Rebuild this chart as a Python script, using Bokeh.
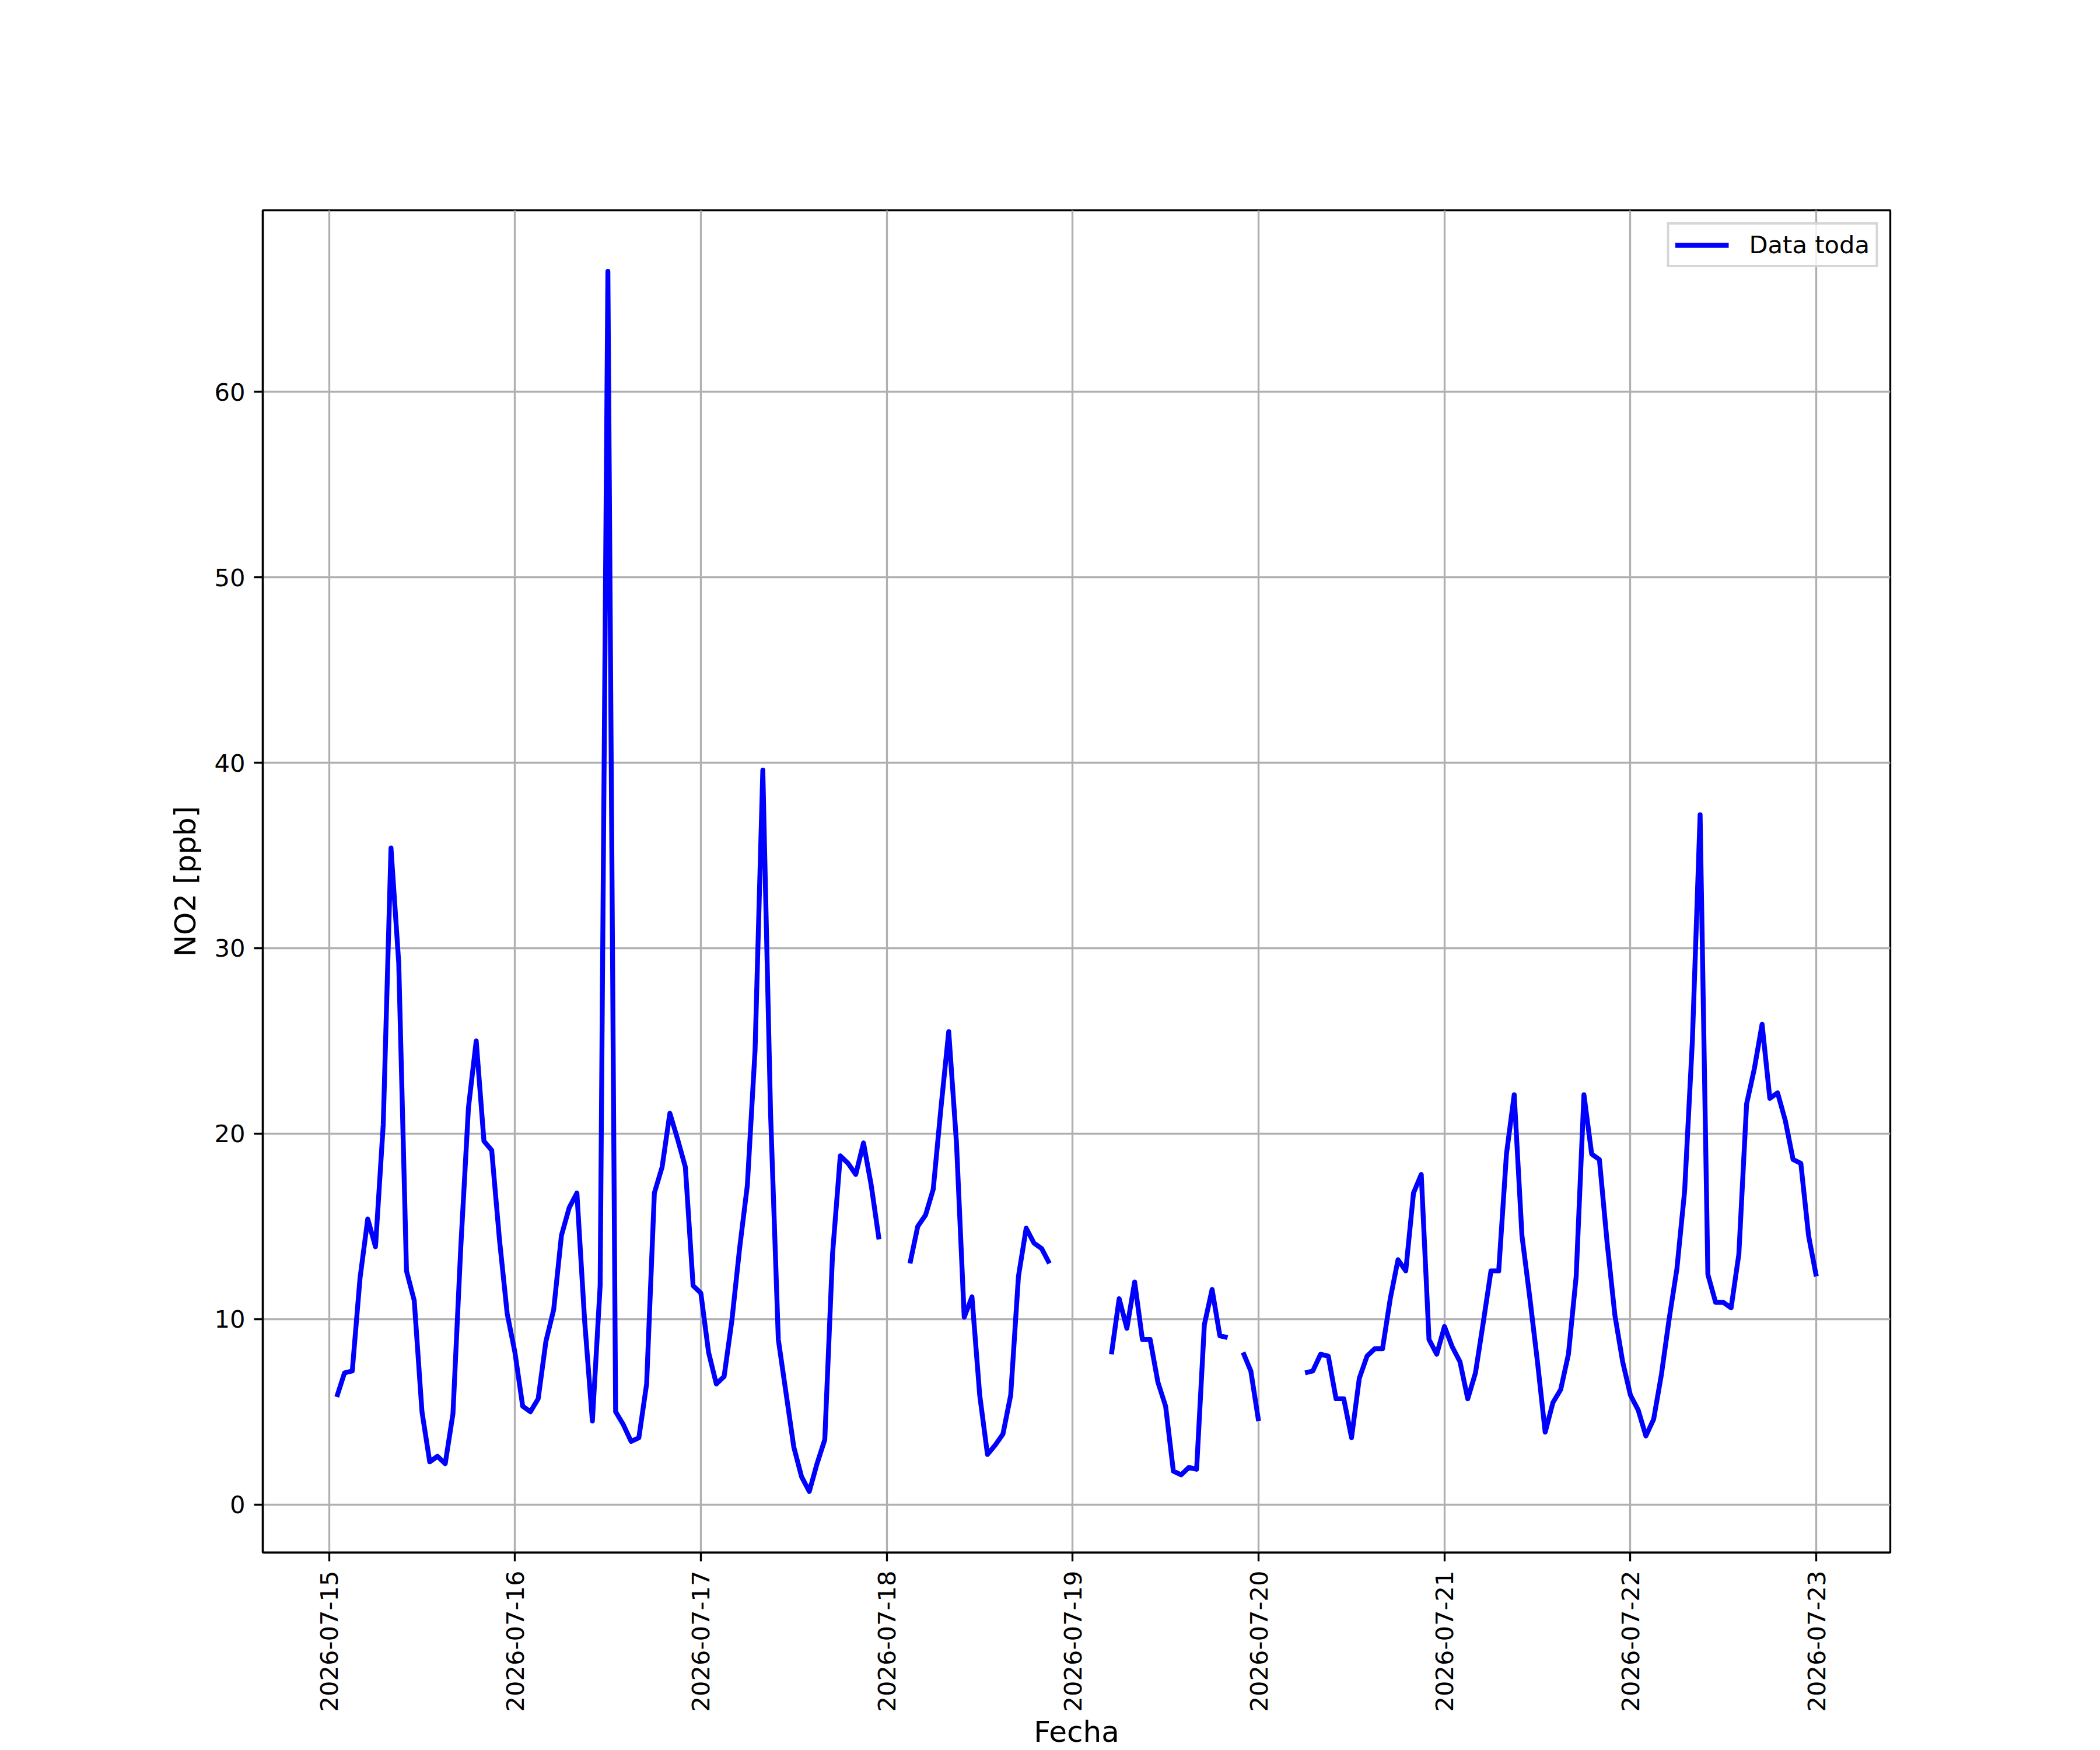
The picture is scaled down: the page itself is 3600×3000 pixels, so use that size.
import math
import numpy as np
import pandas as pd
from bokeh.plotting import figure
from bokeh.models import Range1d, FixedTicker, DatetimeTickFormatter, ColumnDataSource
from bokeh.embed import file_html
from bokeh.resources import INLINE

nan = float("nan")

# Hourly NO2 [ppb], first value at 2026-07-15 01:00
start_time = "2026-07-15 01:00"
no2_jul15 = [5.8, 7.1, 7.2, 12.2, 15.4, 13.9, 20.5, 35.4, 29.2, 12.6, 11.0, 5.0,
             2.3, 2.6, 2.2, 4.9, 13.8, 21.4, 25.0, 19.6, 19.1, 14.3, 10.3]
no2_jul16 = [8.2, 5.3, 5.0, 5.7, 8.8, 10.5, 14.5, 16.0, 16.8, 9.9, 4.5, 11.8,
             66.5, 5.0, 4.3, 3.4, 3.6, 6.5, 16.8, 18.2, 21.1, 19.7, 18.2, 11.8]
no2_jul17 = [11.4, 8.2, 6.5, 6.9, 9.9, 13.8, 17.2, 24.5, 39.6, 21.1, 8.9, 6.0,
             3.1, 1.5, 0.7, 2.2, 3.5, 13.5, 18.8, 18.4, 17.8, 19.5, 17.2, 14.3]
no2_jul18 = [nan, nan, nan, 13.0, 15.0, 15.6, 17.0, 21.4, 25.5, 19.5, 10.1, 11.2,
             5.9, 2.7, 3.2, 3.8, 5.9, 12.3, 14.9, 14.1, 13.8, 13.0, nan, nan]
no2_jul19 = [nan, nan, nan, nan, nan, 8.1, 11.1, 9.5, 12.0, 8.9, 8.9, 6.6,
             5.3, 1.8, 1.6, 2.0, 1.9, 9.7, 11.6, 9.1, 9.0, nan, 8.2, 7.2]
no2_jul20 = [4.5, nan, nan, nan, nan, nan, 7.1, 7.2, 8.1, 8.0, 5.7, 5.7,
             3.6, 6.8, 8.0, 8.4, 8.4, 11.1, 13.2, 12.6, 16.8, 17.8, 8.9, 8.1]
no2_jul21 = [9.6, 8.5, 7.7, 5.7, 7.1, 9.8, 12.6, 12.6, 18.9, 22.1, 14.5, 11.2,
             7.7, 3.9, 5.5, 6.2, 8.1, 12.3, 22.1, 18.9, 18.6, 14.1, 10.2, 7.7]
no2_jul22 = [5.9, 5.1, 3.7, 4.6, 7.0, 10.0, 12.7, 16.9, 25.0, 37.2, 12.4, 10.9,
             10.9, 10.6, 13.5, 21.6, 23.5, 25.9, 21.9, 22.2, 20.7, 18.6, 18.4, 14.5]
no2_jul23 = [12.3]

tick_dates = ["2026-07-15", "2026-07-16", "2026-07-17", "2026-07-18", "2026-07-19",
              "2026-07-20", "2026-07-21", "2026-07-22", "2026-07-23"]
y_ticks = [0, 10, 20, 30, 40, 50, 60]

values = (no2_jul15 + no2_jul16 + no2_jul17 + no2_jul18 + no2_jul19 +
          no2_jul20 + no2_jul21 + no2_jul22 + no2_jul23)
times = pd.date_range(start_time, periods=len(values), freq="h")

src = ColumnDataSource(data=dict(t=times, v=values))

t0, t1 = times[0], times[-1]
span = t1 - t0
x_range = Range1d(start=(t0 - 0.05 * span).to_pydatetime(), end=(t1 + 0.05 * span).to_pydatetime())
vals = np.array(values, dtype=float)
vmin, vmax = np.nanmin(vals), np.nanmax(vals)
vpad = 0.05 * (vmax - vmin)
y_range = Range1d(start=vmin - vpad, end=vmax + vpad)

FONT = "DejaVu Sans"
TICK_FS = "41.67px"
LABEL_FS = "50px"
LW = 3.33

p = figure(width=3600, height=3000, x_axis_type="datetime",
           x_range=x_range, y_range=y_range,
           output_backend="svg", toolbar_location=None,
           min_border_left=450, min_border_right=360,
           min_border_top=360, min_border_bottom=326)
p.background_fill_color = "white"
p.border_fill_color = "white"
p.outline_line_color = "black"
p.outline_line_width = LW
p.outline_line_alpha = 1.0

p.line(x="t", y="v", source=src, line_color="blue", line_width=8.33,
       line_join="round", line_cap="butt", legend_label="Data toda")

tick_ms = (pd.to_datetime(tick_dates).asi8 // 10**6).tolist()
p.xaxis.ticker = FixedTicker(ticks=tick_ms)
fmt = "%Y-%m-%d"
p.xaxis.formatter = DatetimeTickFormatter(
    microseconds=fmt, milliseconds=fmt, seconds=fmt, minsec=fmt, minutes=fmt,
    hourmin=fmt, hours=fmt, days=fmt, months=fmt, years=fmt)
p.xaxis.major_label_orientation = math.pi / 2
p.yaxis.ticker = FixedTicker(ticks=y_ticks)

p.xaxis.axis_label = "Fecha"
p.yaxis.axis_label = "NO2 [ppb]"

for ax in (p.xaxis, p.yaxis):
    ax.axis_line_color = "black"
    ax.axis_line_width = LW
    ax.major_tick_line_color = "black"
    ax.major_tick_line_width = LW
    ax.major_tick_out = 15
    ax.major_tick_in = 0
    ax.minor_tick_out = 0
    ax.minor_tick_in = 0
    ax.major_label_text_font = FONT
    ax.major_label_text_font_size = TICK_FS
    ax.major_label_text_color = "black"
    ax.axis_label_text_font = FONT
    ax.axis_label_text_font_size = LABEL_FS
    ax.axis_label_text_font_style = "normal"
    ax.axis_label_text_color = "black"

p.xaxis.major_label_standoff = 16
p.xaxis.axis_label_standoff = 2
p.yaxis.major_label_standoff = 15
p.yaxis.axis_label_standoff = 17

p.grid.grid_line_color = "#b0b0b0"
p.grid.grid_line_width = LW

lg = p.legend[0]
lg.location = "top_right"
lg.margin = 21
lg.padding = 10
lg.spacing = 0
lg.glyph_width = 92
lg.glyph_height = 36
lg.label_height = 36
lg.label_standoff = 35
lg.label_text_font = FONT
lg.label_text_font_size = TICK_FS
lg.label_text_color = "black"
lg.border_line_color = "#cccccc"
lg.border_line_width = 4.17
lg.border_line_alpha = 0.8
lg.background_fill_color = "white"
lg.background_fill_alpha = 0.8

open("out.html", "w").write(file_html(p, INLINE))
